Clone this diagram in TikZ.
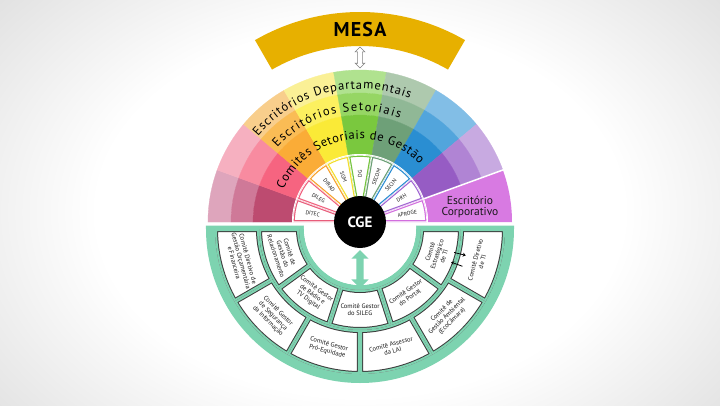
\documentclass[tikz,border=0pt]{standalone}
\usepackage{fontspec}
\setmainfont{PT Sans}
\usetikzlibrary{decorations.text,shapes.arrows,arrows.meta}

\definecolor{bggray}{RGB}{160,160,160}
\definecolor{mesagold}{RGB}{231,176,0}
\definecolor{mint}{RGB}{125,211,176}
\definecolor{boxline}{RGB}{60,60,60}
\definecolor{textdark}{RGB}{25,25,25}
\definecolor{corp}{RGB}{216,122,226}
% bands from left to right: outer, middle, inner
\definecolor{bandout1}{RGB}{222,165,188}\definecolor{bandmid1}{RGB}{207,121,152}\definecolor{bandin1}{RGB}{189,75,112}
\definecolor{bandout2}{RGB}{246,176,192}\definecolor{bandmid2}{RGB}{248,139,160}\definecolor{bandin2}{RGB}{246,100,128}
\definecolor{bandout3}{RGB}{248,206,140}\definecolor{bandmid3}{RGB}{250,188,85}\definecolor{bandin3}{RGB}{250,172,55}
\definecolor{bandout4}{RGB}{250,240,150}\definecolor{bandmid4}{RGB}{252,240,95}\definecolor{bandin4}{RGB}{250,234,55}
\definecolor{bandout5}{RGB}{176,226,143}\definecolor{bandmid5}{RGB}{150,214,100}\definecolor{bandin5}{RGB}{122,200,62}
\definecolor{bandout6}{RGB}{174,201,174}\definecolor{bandmid6}{RGB}{144,184,150}\definecolor{bandin6}{RGB}{110,160,120}
\definecolor{bandout7}{RGB}{130,190,230}\definecolor{bandmid7}{RGB}{82,165,220}\definecolor{bandin7}{RGB}{42,142,210}
\definecolor{bandout8}{RGB}{200,170,225}\definecolor{bandmid8}{RGB}{176,132,212}\definecolor{bandin8}{RGB}{150,92,196}
% unit box borders
\definecolor{edge1}{RGB}{232,92,122}\definecolor{edge2}{RGB}{240,95,125}\definecolor{edge3}{RGB}{248,160,40}
\definecolor{edge4}{RGB}{242,222,40}\definecolor{edge5}{RGB}{115,195,60}\definecolor{edge6}{RGB}{105,158,115}
\definecolor{edge7}{RGB}{40,140,210}\definecolor{edge8}{RGB}{160,100,210}\definecolor{edge9}{RGB}{210,110,222}

\newcommand{\ringpart}[4]{(#3:#1) arc (#3:#4:#1) -- (#4:#2) arc (#4:#3:#2) -- cycle}
\newcommand{\arcfont}{\fontsize{12.5}{12.5}\selectfont}

\pgfdeclareradialshading{bgglow}{\pgfpoint{0bp}{0bp}}{color(0bp)=(white); color(14bp)=(white); color(50bp)=(bggray)}

\tikzset{
  unitlabel/.style={font=\fontsize{5.5}{5.5}\selectfont, text=textdark, inner sep=0pt},
  boxtext/.style={align=center, font=\fontsize{6.5}{7.2}\selectfont, text=textdark, inner sep=0pt},
  curved/.style={decorate, decoration={text along path, text align={fit to path}, text={#1}}}
}

\begin{document}
\begin{tikzpicture}[x=1pt, y=1pt]
  \useasboundingbox (-360,-183) rectangle (360,222);
  \begin{scope}
    \clip (-360,-183) rectangle (360,222);
    \shade[shading=bgglow] (-470,-320) rectangle (470,340);
  \end{scope}

  % MESA
  \fill[mesagold] \ringpart{176}{210}{60}{120};
  \node[font=\bfseries\fontsize{20}{20}\selectfont\addfontfeatures{LetterSpace=6}] (mesa) at (0,193) {MESA};
  \node[double arrow, draw=gray, fill=white, rotate=90, minimum height=21pt, inner sep=2pt,
        double arrow head extend=2.5pt, line width=0.6pt] (mesalink) at (0,164.5) {};

  % offices
  \foreach \i in {1,...,8} {
    \pgfmathsetmacro\a{180-20*\i}
    \pgfmathsetmacro\b{\a+20}
    \filldraw[fill=bandout\i, draw=bandout\i, line width=0.3pt] \ringpart{129}{152}{\a}{\b};
    \filldraw[fill=bandmid\i, draw=bandmid\i, line width=0.3pt] \ringpart{107}{129}{\a}{\b};
    \filldraw[fill=bandin\i, draw=bandin\i, line width=0.3pt] \ringpart{68}{107}{\a}{\b};
  }
  \fill[corp] \ringpart{68}{152}{0}{20};
  \draw[white, line width=1.5pt] (20:68) -- (20:153);
  \node[align=center, font=\fontsize{11.5}{11.5}\selectfont, text=textdark] (corporativo) at (110,15) {Escritório\\Corporativo};

  \path[curved={|\arcfont|Escritórios Departamentais}] (140:133) arc (140:68:133);
  \path[curved={|\arcfont|Escritórios Setoriais}] (138:111) arc (138:69:111);
  \path[curved={|\arcfont|Comitês Setoriais de Gestão}] (157:83) arc (157:44:83);

  % units
  \fill[white] (-68,0) arc (180:0:68) -- cycle;
  \foreach \lab [count=\i] in {DITEC,DILEG,DIRAD,SGM,DG,SECOM,SECIN,DRH,APROGE} {
    \pgfmathsetmacro\a{180-20*\i}
    \pgfmathsetmacro\b{\a+20}
    \pgfmathsetmacro\m{\a+10}
    \pgfmathsetmacro\rot{\m>90 ? \m-180 : \m}
    \begin{scope}
      \clip \ringpart{20}{67}{\a}{\b};
      \draw[draw=edge\i, line width=3.6pt] \ringpart{20}{67}{\a}{\b};
      \draw[white, line width=1.2pt] \ringpart{20}{67}{\a}{\b};
    \end{scope}
    \node[unitlabel, rotate=\rot] (unit\i) at (\m:48) {\lab};
  }

  % committees
  \begin{scope}[shift={(0,-7)}]
    \fill[mint] (-154,3.5) -- (-56,3.5) -- (-56,0) arc (180:360:56) -- (56,3.5) -- (154,3.5) -- (154,0) arc (0:-180:154) -- cycle;
    \fill[white] (-56,3.5) -- (56,3.5) -- (56,0) arc (0:-180:56) -- cycle;
    \foreach \lab [count=\i] in {{Comitê de\\Gestão do\\Relacionamento}, {Comitê Gestor\\de Rádio e\\TV Digital},
        {Comitê Gestor\\do SILEG}, {Comitê Gestor\\do Portal}, {Comitê\\Estratégico\\de TI}} {
      \pgfmathsetmacro\a{180+36*(\i-1)}
      \pgfmathsetmacro\b{\a+36}
      \pgfmathsetmacro\m{\a+18}
      \begin{scope}
        \clip \ringpart{61}{101}{\a}{\b};
        \fill[white] \ringpart{61}{101}{\a}{\b};
        \draw[boxline, line width=6pt] \ringpart{61}{101}{\a}{\b};
        \draw[mint, line width=4pt] \ringpart{61}{101}{\a}{\b};
      \end{scope}
      \node[boxtext, rotate=\m-270] (inner\i) at (\m:81) {\lab};
    }
    \foreach \lab [count=\i] in {{Comitê Diretivo de\\Gestão Orçamentária\\e Financeira}, {Comitê Gestor\\de Segurança\\da Informação},
        {Comitê Gestor\\Pró-Equidade}, {Comitê Assessor\\da LAI}, {Comitê de\\Gestão Ambiental\\(EcoCâmara)}, {Comitê Diretivo\\de TI}} {
      \pgfmathsetmacro\a{180+30*(\i-1)}
      \pgfmathsetmacro\b{\a+30}
      \pgfmathsetmacro\m{\a+15}
      \begin{scope}
        \clip \ringpart{101}{145}{\a}{\b};
        \fill[white] \ringpart{101}{145}{\a}{\b};
        \draw[boxline, line width=6pt] \ringpart{101}{145}{\a}{\b};
        \draw[mint, line width=4pt] \ringpart{101}{145}{\a}{\b};
      \end{scope}
      \node[boxtext, rotate=\m-270] (outer\i) at (\m:123) {\lab};
    }
    \coordinate (tiin1) at (346:97);  \coordinate (tiout1) at (346:109);
    \coordinate (tiin2) at (340:97);  \coordinate (tiout2) at (340:109);
    \draw[-{Stealth[length=3pt,width=4pt]}, line width=0.8pt] (tiin1) -- (tiout1);
    \draw[-{Stealth[length=3pt,width=4pt]}, line width=0.8pt] (tiout2) -- (tiin2);
    \node[double arrow, fill=mint, rotate=90, minimum height=38pt, inner sep=3.5pt,
          double arrow head extend=5pt] (cgeflow) at (0,-40) {};
  \end{scope}

  \node[circle, fill=black, minimum size=52pt, text=white, font=\bfseries\fontsize{15}{15}\selectfont] (cge) at (0,0) {CGE};
\end{tikzpicture}
\end{document}
